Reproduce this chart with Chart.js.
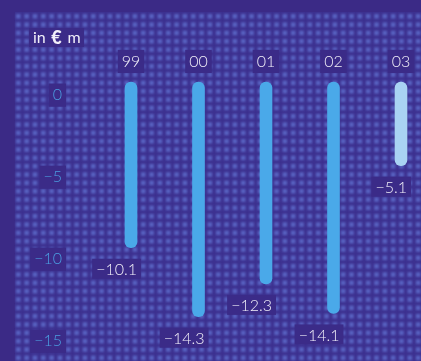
<!DOCTYPE html>
<html>
<head>
<meta charset="utf-8">
<script src="https://cdn.jsdelivr.net/npm/chart.js@4/dist/chart.umd.min.js"></script>
<style>
  html, body { margin: 0; padding: 0; background: #3b2a86; }
  canvas { display: block; }
</style>
</head>
<body>
<canvas id="chart" width="421" height="361"></canvas>
<script>
// Annual result per year, in € million
const years = ['99', '00', '01', '02', '03'];
const lossValues = [-10.1, -14.3, -12.3, -14.1, -5.1];
const yTickValues = [0, -5, -10, -15];
const unitParts = ['in ', '€', ' m'];

const FRAME = '#3b2a86';
const LABEL_BOX = '#3b2b88';
const BAR_BLUE = '#4aa9e9';
const BAR_LIGHT = '#a9d3f3';
const TEXT = '#f1eff9';
const TICK_BLUE = '#4b9fe2';
const FONT = 'Lato, "Open Sans", sans-serif';

const fmt = (v, digits) => {
  const s = Math.abs(v).toFixed(digits);
  return (v < 0 ? '\u2212' : '') + s;
};

// Dotted screen texture behind the plot
const texturePlugin = {
  id: 'texture',
  beforeDraw(chart) {
    const { ctx, width, height } = chart;
    ctx.save();
    ctx.fillStyle = FRAME;
    ctx.fillRect(0, 0, width, height);
    ctx.fillStyle = '#3d3190';
    ctx.fillRect(15, 12, width - 15, height - 12);
    ctx.filter = 'blur(0.9px)';
    const step = 8.33;
    for (let y = 14; y < height + step; y += step) {
      for (let x = 16; x < width + step; x += step) {
        ctx.fillStyle = 'rgba(98,118,212,0.72)';
        ctx.fillRect(x, y, 4.6, 4.6);
      }
    }
    ctx.filter = 'none';
    ctx.restore();
  }
};

// Unit caption and value labels under each bar
const labelPlugin = {
  id: 'valueLabels',
  afterDatasetsDraw(chart) {
    const { ctx } = chart;
    ctx.save();
    // unit caption
    const fonts = ['400 16px ' + FONT, '900 18px ' + FONT, '400 16px ' + FONT];
    const widths = unitParts.map((t, i) => { ctx.font = fonts[i]; return ctx.measureText(t).width + 1.5; });
    const total = widths.reduce((a, b) => a + b, 0);
    const ux = 33, uy = 38;
    ctx.fillStyle = LABEL_BOX;
    ctx.fillRect(ux - 4, uy - 10, total + 6, 19);
    ctx.textBaseline = 'middle';
    ctx.textAlign = 'left';
    let cx = ux;
    unitParts.forEach((t, i) => {
      ctx.font = fonts[i];
      ctx.fillStyle = TEXT;
      ctx.fillText(t, cx, uy);
      cx += widths[i];
    });

    // value labels
    const meta = chart.getDatasetMeta(0);
    ctx.font = '300 16px ' + FONT;
    meta.data.forEach((bar, i) => {
      const txt = fmt(lossValues[i], 1);
      const w = ctx.measureText(txt).width;
      const right = bar.x + bar.width / 2;
      const y = bar.y + 21;
      ctx.fillStyle = LABEL_BOX;
      ctx.fillRect(right - w - 4, y - 10, w + 8, 20);
      ctx.fillStyle = TEXT;
      ctx.textAlign = 'right';
      ctx.fillText(txt, right, y + 1);
    });
    ctx.restore();
  }
};

new Chart(document.getElementById('chart'), {
  type: 'bar',
  data: {
    labels: years,
    datasets: [{
      data: lossValues,
      backgroundColor: lossValues.map((v, i) => i === lossValues.length - 1 ? BAR_LIGHT : BAR_BLUE),
      barThickness: 12,
      borderRadius: 6,
      borderSkipped: false,
      clip: false,
      yAxisID: 'y'
    }]
  },
  options: {
    responsive: false,
    animation: false,
    devicePixelRatio: 1,
    layout: { padding: { left: 0, right: 20, top: 0, bottom: 0 } },
    plugins: {
      legend: { display: false },
      tooltip: { enabled: false }
    },
    scales: {
      x: {
        position: 'top',
        offset: false,
        grid: { display: false, drawTicks: false },
        border: { display: false },
        afterFit(scale) {
          scale.height = 82;
          scale.paddingLeft = 0;
          scale.paddingRight = 0;
        },
        ticks: {
          color: TEXT,
          font: { family: FONT, size: 16, weight: '300' },
          padding: 11,
          maxRotation: 0,
          autoSkip: false,
          showLabelBackdrop: true,
          backdropColor: LABEL_BOX,
          backdropPadding: { x: 4, y: 2 }
        }
      },
      y: {
        display: false,
        min: -17,
        max: 0
      },
      yl: {
        position: 'left',
        min: -16.2,
        max: 0.8,
        grid: { display: false, drawTicks: false },
        border: { display: false },
        afterBuildTicks(scale) { scale.ticks = yTickValues.map(v => ({ value: v })); },
        afterFit(scale) {
          scale.width = 131;
          scale.paddingTop = 0;
          scale.paddingBottom = 0;
        },
        ticks: {
          color: TICK_BLUE,
          font: { family: FONT, size: 16, weight: '300' },
          padding: 69,
          callback: v => fmt(v, 0),
          showLabelBackdrop: true,
          backdropColor: LABEL_BOX,
          backdropPadding: { x: 4, y: 2 }
        }
      }
    }
  },
  plugins: [texturePlugin, labelPlugin]
});
</script>
</body>
</html>
